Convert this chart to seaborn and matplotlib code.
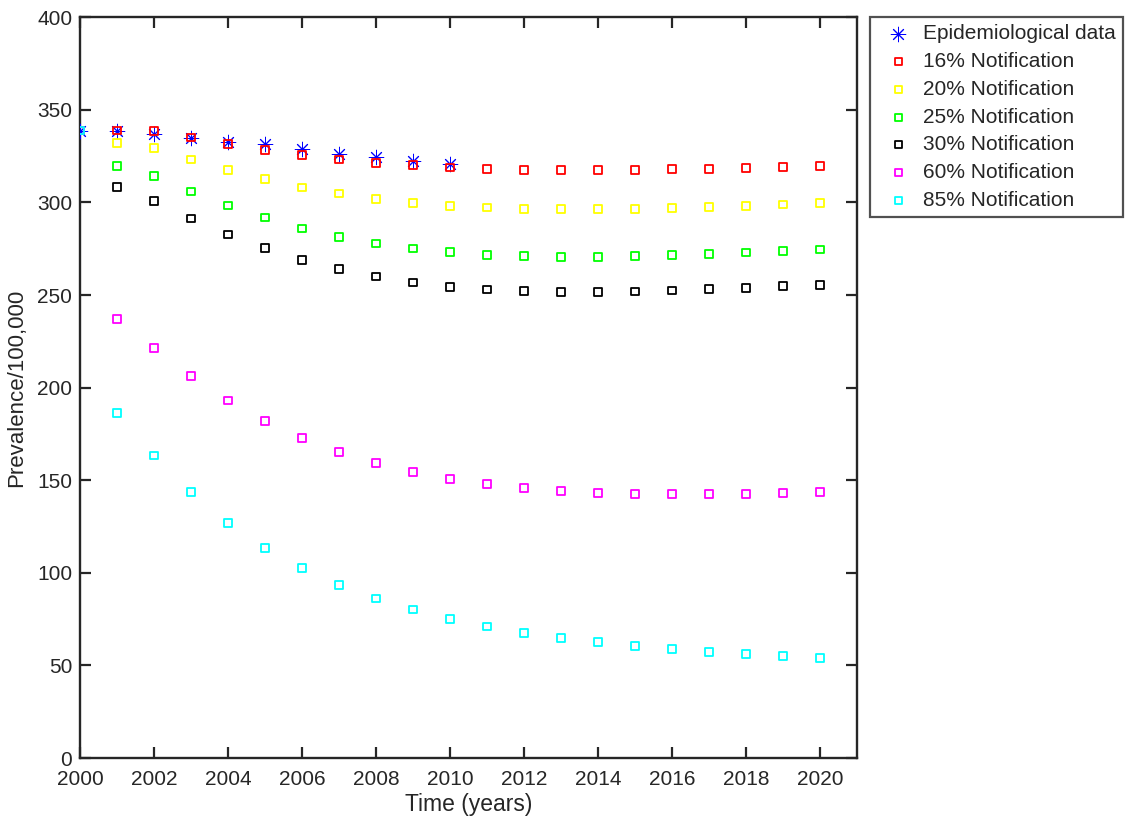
import numpy as np
import pandas as pd
import matplotlib
matplotlib.use("Agg")
import matplotlib.pyplot as plt
import seaborn as sns

years = list(range(2000, 2021))
epi_years = list(range(2000, 2011))
epi_values = [338.6, 338.6, 337.1, 334.9, 332.5, 331.7, 328.7, 326.3, 324.6, 322.4, 321.0]

n16 = [338.8, 338.8, 338.6, 335.0, 331.7, 328.5, 325.8, 323.3, 321.3, 320.1, 318.8,
       318.2, 317.7, 317.5, 317.5, 317.7, 318.0, 318.2, 318.6, 319.2, 319.6]
n20 = [338.8, 332.2, 329.4, 323.3, 317.7, 312.7, 308.2, 304.8, 301.9, 299.8, 298.2,
       297.3, 296.6, 296.4, 296.4, 296.6, 297.1, 297.6, 298.2, 298.9, 299.6]
n25 = [338.8, 319.8, 314.2, 305.9, 298.3, 291.8, 286.0, 281.5, 277.9, 275.2, 273.2,
       271.8, 271.1, 270.7, 270.7, 271.1, 271.5, 272.3, 273.0, 273.9, 274.6]
n30 = [338.8, 308.4, 300.8, 291.3, 282.7, 275.3, 269.0, 264.0, 260.0, 256.8, 254.5,
       253.0, 252.1, 251.7, 251.7, 251.9, 252.4, 253.2, 253.9, 254.8, 255.5]
n60 = [338.8, 237.0, 221.3, 206.2, 193.0, 181.9, 172.9, 165.4, 159.3, 154.6, 150.8,
       147.9, 145.7, 144.2, 143.2, 142.6, 142.5, 142.5, 142.6, 143.2, 143.6]
n85 = [338.8, 186.4, 163.3, 143.6, 127.1, 113.6, 102.6, 93.6, 86.2, 80.3, 75.2,
       71.1, 67.6, 64.9, 62.6, 60.4, 58.8, 57.4, 56.2, 55.1, 54.2]

series_labels = ["16% Notification", "20% Notification", "25% Notification",
                 "30% Notification", "60% Notification", "85% Notification"]
series_values = [n16, n20, n25, n30, n60, n85]
series_colors = ["#ff0000", "#ffff00", "#00ff00", "#000000", "#ff00ff", "#00ffff"]

x_ticks = list(range(2000, 2021, 2))
y_ticks = list(range(0, 401, 50))

sns.set_style("white")
plt.rcParams["font.family"] = ["Liberation Sans", "DejaVu Sans"]

fig = plt.figure(figsize=(11.26, 8.24), dpi=100)
ax = fig.add_axes([0.071, 0.080, 0.690, 0.899])

sns.scatterplot(x=epi_years, y=epi_values, ax=ax, marker=(8, 2, 0), s=110,
                color="#0000ff", linewidth=0.7, label="Epidemiological data", zorder=3)

for lab, vals, col in zip(series_labels, series_values, series_colors):
    sns.scatterplot(x=years, y=vals, ax=ax, marker="s", s=30, facecolor="none",
                    edgecolor=col, linewidth=1.3, label=lab, zorder=4)

ax.set_xlim(2000, 2021)
ax.set_ylim(0, 400)
ax.set_xticks(x_ticks)
ax.set_yticks(y_ticks)
ax.set_xticklabels([str(t) for t in x_ticks])
ax.set_yticklabels([str(t) for t in y_ticks])
ax.tick_params(direction="in", length=8, width=1.6, labelsize=15, colors="#262626",
               top=True, right=True, bottom=True, left=True)
ax.tick_params(axis="y", pad=5.5)
ax.tick_params(axis="x", pad=8.5)
for sp in ax.spines.values():
    sp.set_visible(True)
    sp.set_linewidth(1.7)
    sp.set_color("#262626")
ax.set_xlabel("Time (years)", fontsize=16.5, color="#262626", labelpad=3)
ax.set_ylabel("Prevalence/100,000", fontsize=16, color="#262626", labelpad=7)
ax.grid(False)

leg = ax.legend(loc="upper left", bbox_to_anchor=(0.7726, 0.9794),
                bbox_transform=fig.transFigure, fontsize=15, frameon=True,
                fancybox=False, borderpad=0.35, labelspacing=0.42, handletextpad=0.2,
                handlelength=2.0, borderaxespad=0)
leg.get_frame().set_edgecolor("#262626")
leg.get_frame().set_linewidth(1.6)
handles = leg.legend_handles
handles[0].set_sizes([110])
for h in handles[1:]:
    h.set_sizes([26])

fig.savefig("out.png", dpi=100)
